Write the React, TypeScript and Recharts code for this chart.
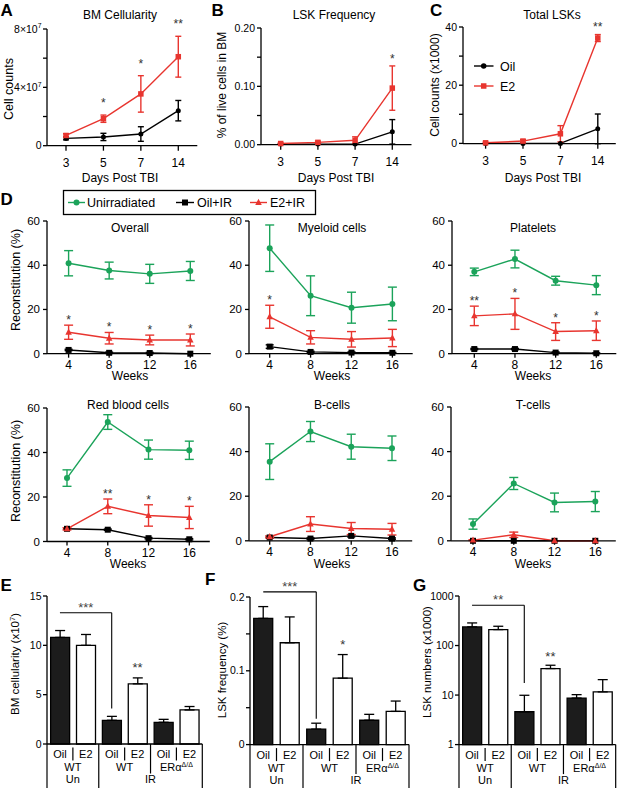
import React from 'react';
import {
  ComposedChart,
  Line,
  Bar,
  XAxis,
  YAxis,
  ErrorBar,
  LabelList,
  ReferenceLine,
  ReferenceDot,
  Cell,
} from 'recharts';

const FONT = '"Liberation Sans", Arial, Helvetica, sans-serif';
const RED = '#e8352f';
const GREEN = '#1ba35a';

// ---------- A-C: days post TBI ----------
const days = ['3', '5', '7', '14'];

const bmOil = [0.5e7, 0.6e7, 0.8e7, 2.4e7];
const bmOilSd = [0.1e7, 0.25e7, 0.5e7, 0.7e7];
const bmE2 = [0.7e7, 1.85e7, 3.55e7, 6.1e7];
const bmE2Sd = [0.12e7, 0.25e7, 1.25e7, 1.4e7];
const bmStars = ['', '*', '*', '**'];

const freqOil = [0.001, 0.001, 0.001, 0.022];
const freqOilSd = [0.0005, 0.0005, 0.0005, 0.021];
const freqE2 = [0.002, 0.004, 0.0075, 0.097];
const freqE2Sd = [0.001, 0.002, 0.006, 0.038];
const freqStars = ['', '', '', '*'];

const totOil = [0, 0, 0, 5.0];
const totOilSd = [0, 0, 0, 5.1];
const totE2 = [0.2, 0.8, 3.3, 36.2];
const totE2Sd = [0.2, 0.5, 2.8, 1.2];
const totStars = ['', '', '', '**'];

// ---------- D: reconstitution by weeks ----------
const weeks = ['4', '8', '12', '16'];

const allUn = [40.9, 37.6, 36.1, 37.4];
const allUnSd = [5.7, 3.8, 4.3, 4.3];
const allOil = [1.7, 0.4, 0.3, 0];
const allOilSd = [0.3, 0.3, 0.3, 0];
const allE2 = [9.7, 7.0, 6.2, 6.2];
const allE2Sd = [3.2, 2.6, 2.2, 2.7];
const allStars = ['*', '*', '*', '*'];

const myeUn = [47.7, 26.2, 20.8, 22.5];
const myeUnSd = [10.5, 9.0, 7.0, 7.6];
const myeOil = [3.2, 0.8, 0.5, 0.4];
const myeOilSd = [0.8, 0.3, 0.3, 0.2];
const myeE2 = [16.7, 7.4, 6.5, 7.1];
const myeE2Sd = [5.2, 3.0, 3.5, 3.9];
const myeStars = ['*', '', '', ''];

const pltUn = [37.0, 42.8, 33.0, 31.0];
const pltUnSd = [1.7, 4.0, 2.0, 4.3];
const pltOil = [2.1, 2.1, 0.5, 0.2];
const pltOilSd = [0.3, 0.3, 0.3, 0.2];
const pltE2 = [17.1, 18.0, 10.0, 10.4];
const pltE2Sd = [4.4, 7.0, 4.0, 4.4];
const pltStars = ['**', '*', '*', '*'];

const rbcUn = [28.5, 53.7, 41.3, 41.0];
const rbcUnSd = [3.7, 3.3, 4.3, 4.1];
const rbcOil = [5.7, 5.3, 1.5, 1.0];
const rbcOilSd = [0.3, 0.3, 0.3, 0.3];
const rbcE2 = [5.7, 15.8, 11.7, 10.8];
const rbcE2Sd = [0.5, 3.3, 4.8, 5.0];
const rbcStars = ['', '**', '*', '*'];

const bcUn = [35.5, 49.0, 42.2, 41.5];
const bcUnSd = [8.0, 4.5, 5.6, 5.5];
const bcOil = [1.5, 1.0, 2.2, 1.0];
const bcOilSd = [0.3, 0.3, 0.5, 0.3];
const bcE2 = [1.8, 7.5, 5.5, 5.2];
const bcE2Sd = [0.4, 3.3, 2.7, 2.6];
const bcStars = ['', '', '', ''];

const tcUn = [7.5, 25.7, 17.2, 17.6];
const tcUnSd = [2.3, 2.7, 4.2, 4.5];
const tcOil = [0, 0, 0, 0];
const tcOilSd = [0, 0, 0, 0];
const tcE2 = [0.3, 2.7, 0, 0];
const tcE2Sd = [0.2, 1.2, 0, 0];
const tcStars = ['', '', '', ''];

// ---------- E-G: bar panels ----------
const barKeys = ['oilUn', 'e2Un', 'oilWt', 'e2Wt', 'oilEr', 'e2Er'];
const treatments = ['Oil', 'E2', 'Oil', 'E2', 'Oil', 'E2'];
const strains = ['WT', 'WT', 'ERα'];
const strainSup = ['', '', 'Δ/Δ'];
const conditions = ['Un', 'IR'];

const cellularity = [10.8, 10.0, 2.4, 6.1, 2.2, 3.45];
const cellularitySd = [0.7, 1.1, 0.4, 0.6, 0.3, 0.35];
const cellularityStars = ['', '', '', '**', '', ''];

const lskPct = [0.171, 0.138, 0.021, 0.09, 0.033, 0.045];
const lskPctSd = [0.016, 0.035, 0.008, 0.032, 0.008, 0.014];
const lskPctStars = ['', '', '', '*', '', ''];

const lskNum = [238, 210, 4.6, 34.3, 8.7, 11.6];
const lskNumSd = [48, 35, 5.3, 5.7, 1.5, 8.9];
const lskNumStars = ['', '', '', '**', '', ''];

// Un Oil vs IR Oil comparison brackets (top, drop-to, label)
const cellularityBracket = { top: 13.3, low: 3.6, label: '***' };
const lskPctBracket = { top: 0.207, low: 0.035, label: '***' };
const lskNumBracket = { top: 652, low: 17.5, label: '**' };

type Box = { x0: number; y0: number; x1: number; y1: number };
type Ser = { key: string; color: string; shape: string; size: number; cap: number };

const PT = 30;
const PL = 50;
const PR = 2;
const PB = 46;
const axisStyle = { stroke: '#000', strokeWidth: 1.3 };

const abcSeries: Ser[] = [
  { key: 'oil', color: '#000', shape: 'circle', size: 5, cap: 3 },
  { key: 'e2', color: RED, shape: 'square', size: 5.5, cap: 3 },
];
const dSeries: Ser[] = [
  { key: 'un', color: GREEN, shape: 'circle', size: 6, cap: 4.5 },
  { key: 'oil', color: '#000', shape: 'square', size: 6, cap: 4 },
  { key: 'e2', color: RED, shape: 'triangle', size: 6.5, cap: 4.5 },
];

function rows(cats: string[], cols: Record<string, any[]>) {
  return cats.map((cat, i) => {
    const r: any = { cat };
    Object.keys(cols).forEach((k) => (r[k] = cols[k][i]));
    r.starY = r.e2 + r.e2Sd;
    return r;
  });
}

const shapeEl = (shape: string, cx: number, cy: number, size: number, color: string, key?: any) => {
  const h = size / 2;
  if (shape === 'square')
    return <rect key={key} x={cx - h} y={cy - h} width={size} height={size} fill={color} />;
  if (shape === 'triangle')
    return (
      <path
        key={key}
        d={`M${cx},${cy - h * 1.15}L${cx + h},${cy + h * 0.75}L${cx - h},${cy + h * 0.75}Z`}
        fill={color}
      />
    );
  return <circle key={key} cx={cx} cy={cy} r={h} fill={color} />;
};

const marker = (s: Ser) => (p: any) => {
  if (p.cx == null || p.cy == null || p.value == null) return <g key={p.index} />;
  return shapeEl(s.shape, p.cx, p.cy, s.size, s.color, p.index);
};

const YTick = (t: any) => {
  const [base, sup] = t.fmt(t.payload.value);
  if (!base) return <g />;
  return (
    <text x={t.x} y={t.y} dy="0.35em" textAnchor="end" fontSize={t.fs} fontFamily={FONT} fill="#000">
      {base}
      {sup ? (
        <tspan dy={-t.fs * 0.4} fontSize={t.fs * 0.65}>
          {sup}
        </tspan>
      ) : null}
    </text>
  );
};

const StarText = (l: any) => {
  if (!l.value) return <g />;
  const x = l.viewBox?.x ?? l.x;
  const y = l.viewBox?.y ?? l.y;
  if (x == null || y == null) return <g />;
  return (
    <text x={x} y={y - l.gap} textAnchor="middle" fontSize={l.fs} fontFamily={FONT} fill="#333">
      {l.value}
    </text>
  );
};

function LinePanel(p: {
  box: Box;
  data: any[];
  pad: [number, number];
  domain: [number, number];
  ticks: number[];
  fmt: (v: number) => string[];
  yFs: number;
  xFs: number;
  xTick: [number, number];
  yMargin: number;
  series: Ser[];
  starGap: number;
  starFs: number;
}) {
  const { box } = p;
  const w = box.x1 - box.x0 + PL + PR;
  const h = box.y1 - box.y0 + PT + PB;
  return (
    <div style={{ position: 'absolute', left: box.x0 - PL, top: box.y0 - PT }}>
      <ComposedChart width={w} height={h} data={p.data} margin={{ top: PT, right: PR, bottom: 0, left: 0 }}>
        <XAxis
          dataKey="cat"
          type="category"
          scale="point"
          padding={{ left: p.pad[0], right: p.pad[1] }}
          height={PB}
          interval={0}
          axisLine={axisStyle}
          tickLine={axisStyle}
          tickSize={p.xTick[0]}
          tickMargin={p.xTick[1]}
          tick={{ fontSize: p.xFs, fill: '#000', fontFamily: FONT }}
        />
        <YAxis
          type="number"
          domain={p.domain}
          ticks={p.ticks}
          width={PL}
          interval={0}
          axisLine={axisStyle}
          tickLine={axisStyle}
          tickSize={4}
          tickMargin={p.yMargin}
          tick={(t: any) => <YTick {...t} fmt={p.fmt} fs={p.yFs} />}
        />
        {p.series.map((s) => (
          <Line
            key={s.key}
            dataKey={s.key}
            stroke={s.color}
            strokeWidth={1.4}
            dot={marker(s)}
            activeDot={false}
            isAnimationActive={false}
          >
            <ErrorBar dataKey={s.key + 'Sd'} width={s.cap} stroke={s.color} strokeWidth={1.4} direction="y" />
          </Line>
        ))}
        <Line dataKey="starY" stroke="none" dot={false} activeDot={false} isAnimationActive={false}>
          <LabelList dataKey="star" content={(l: any) => <StarText {...l} gap={p.starGap} fs={p.starFs} />} />
        </Line>
      </ComposedChart>
    </div>
  );
}

const TableTick = (t: any) => {
  const { x, y, bw } = t;
  const i: number = t.index ?? t.payload?.index ?? 0;
  const L = x - bw / 2;
  const R = x + bw / 2;
  const ln = (lx: number, a: number, b: number, k: string) => (
    <line key={k} x1={lx} x2={lx} y1={y + a} y2={y + b} stroke="#000" strokeWidth={1.2} />
  );
  const txt = (s: React.ReactNode, cx: number, dy: number, k: string) => (
    <text key={k} x={cx} y={y + dy} textAnchor="middle" fontSize={11} fontFamily={FONT} fill="#000">
      {s}
    </text>
  );
  const out: React.ReactNode[] = [txt(treatments[i], x, 14.5, 't')];
  if (i % 2 === 1) {
    const g = i >> 1;
    out.push(ln(L, 3.5, 16.5, 'd'));
    out.push(
      txt(
        <>
          {strains[g]}
          {strainSup[g] ? (
            <tspan dy={-4} fontSize={7}>
              {strainSup[g]}
            </tspan>
          ) : null}
        </>,
        L,
        27,
        'g'
      )
    );
  }
  if (i === 0) out.push(ln(L, 0, 46, 'l'));
  if (i === 1 || i === 5) out.push(ln(R, 0, 46, 'r'));
  if (i === 3) out.push(ln(R, 0, 29.5, 'r'));
  if (i === 1) out.push(txt(conditions[0], L, 39.5, 'c'));
  if (i === 4) out.push(txt(conditions[1], L, 39.5, 'c'));
  return <g>{out}</g>;
};

function BarPanel(p: {
  box: Box;
  values: number[];
  sds: number[];
  stars: string[];
  domain: [number, number];
  ticks: number[];
  fmt: (v: number) => string[];
  scale?: 'log' | 'linear';
  bracket: { top: number; low: number; label: string };
  starGap: number;
}) {
  const { box } = p;
  const w = box.x1 - box.x0 + PL + PR;
  const h = box.y1 - box.y0 + PT + PB;
  const bw = (box.x1 - box.x0) / barKeys.length;
  const data = barKeys.map((cat, i) => ({
    cat,
    v: p.values[i],
    err: [0, p.sds[i]],
    starY: p.values[i] + p.sds[i],
    star: p.stars[i],
  }));
  return (
    <div style={{ position: 'absolute', left: box.x0 - PL, top: box.y0 - PT }}>
      <ComposedChart
        width={w}
        height={h}
        data={data}
        margin={{ top: PT, right: PR, bottom: 0, left: 0 }}
        barCategoryGap="14%"
      >
        <XAxis
          dataKey="cat"
          type="category"
          height={PB}
          interval={0}
          axisLine={axisStyle}
          tickLine={false}
          tickSize={0}
          tickMargin={0}
          tick={(t: any) => <TableTick {...t} bw={bw} />}
        />
        <YAxis
          type="number"
          scale={p.scale ?? 'linear'}
          domain={p.domain}
          ticks={p.ticks}
          width={PL}
          interval={0}
          axisLine={axisStyle}
          tickLine={axisStyle}
          tickSize={4}
          tickMargin={1.5}
          tick={(t: any) => <YTick {...t} fmt={p.fmt} fs={10.5} />}
        />
        <Bar dataKey="v" stroke="#000" strokeWidth={1.3} isAnimationActive={false}>
          {data.map((d, i) => (
            <Cell key={d.cat} fill={treatments[i] === 'Oil' ? '#1c1c1c' : '#fff'} />
          ))}
          <ErrorBar dataKey="err" width={5} stroke="#000" strokeWidth={1.3} direction="y" />
        </Bar>
        <Line dataKey="starY" stroke="none" dot={false} activeDot={false} isAnimationActive={false}>
          <LabelList dataKey="star" content={(l: any) => <StarText {...l} gap={p.starGap} fs={13} />} />
        </Line>
        <ReferenceLine
          segment={[
            { x: barKeys[0], y: p.bracket.top },
            { x: barKeys[2], y: p.bracket.top },
          ]}
          stroke="#000"
          strokeWidth={1.1}
          ifOverflow="visible"
        />
        <ReferenceLine
          segment={[
            { x: barKeys[2], y: p.bracket.top },
            { x: barKeys[2], y: p.bracket.low },
          ]}
          stroke="#000"
          strokeWidth={1.1}
          ifOverflow="visible"
        />
        <ReferenceDot
          x={barKeys[1]}
          y={p.bracket.top}
          r={0}
          ifOverflow="visible"
          shape={(s: any) => (
            <text x={s.cx} y={s.cy - 1} textAnchor="middle" fontSize={13} fontFamily={FONT} fill="#444">
              {p.bracket.label}
            </text>
          )}
        />
      </ComposedChart>
    </div>
  );
}

const dFmt = (v: number) => [String(v)];
const dTicks = [0, 20, 40, 60];

const titles: [string, number, number][] = [
  ['BM Cellularity', 120, 18.5],
  ['LSK Frequency', 334, 18.5],
  ['Total LSKs', 552, 18.5],
  ['Overall', 130, 231.5],
  ['Myeloid cells', 332, 231.5],
  ['Platelets', 533, 231.5],
  ['Red blood cells', 128, 408.5],
  ['B-cells', 332, 408.5],
  ['T-cells', 533, 408.5],
  ['Days Post TBI', 120, 181.5],
  ['Days Post TBI', 336, 181.5],
  ['Days Post TBI', 543, 181.5],
  ['Weeks', 130, 380],
  ['Weeks', 332, 380],
  ['Weeks', 533, 380],
  ['Weeks', 128, 568],
  ['Weeks', 332, 568],
  ['Weeks', 533, 568],
];

const yTitles: [string, number, number, number][] = [
  ['Cell counts', 13, 89, 12.5],
  ['% of live cells in BM', 226, 85, 12],
  ['Cell counts (x1000)', 439, 85, 12],
  ['Reconstitution (%)', 19.5, 280, 12.5],
  ['Reconstitution (%)', 19.5, 471, 12.5],
  ['LSK frequency (%)', 226, 670, 11.5],
  ['LSK numbers (x1000)', 431, 662, 11.5],
];

const letters: [string, number, number][] = [
  ['A', 0.5, 15.5],
  ['B', 211.5, 15.5],
  ['C', 430, 15.5],
  ['D', 0.5, 205],
  ['E', 0.5, 591],
  ['F', 205, 585],
  ['G', 413, 590.5],
];

function Overlay() {
  return (
    <svg width={617} height={788} style={{ position: 'absolute', left: 0, top: 0, pointerEvents: 'none' }}>
      {letters.map(([t, x, y]) => (
        <text key={t} x={x} y={y} fontSize={17} fontWeight="bold" fontFamily={FONT} fill="#000">
          {t}
        </text>
      ))}
      {titles.map(([t, x, y], i) => (
        <text key={i} x={x} y={y} textAnchor="middle" fontSize={12} fontFamily={FONT} fill="#000">
          {t}
        </text>
      ))}
      {yTitles.map(([t, x, y, fs], i) => (
        <text
          key={i}
          x={x}
          y={y}
          transform={`rotate(-90 ${x} ${y})`}
          textAnchor="middle"
          fontSize={fs}
          fontFamily={FONT}
          fill="#000"
        >
          {t}
        </text>
      ))}
      <text x={19} y={664} transform="rotate(-90 19 664)" textAnchor="middle" fontSize={11.5} fontFamily={FONT} fill="#000">
        BM cellularity (x10
        <tspan dy={-4} fontSize={7.5}>
          7
        </tspan>
        <tspan dy={4}>)</tspan>
      </text>

      {/* C legend */}
      <line x1={474} x2={493.5} y1={66} y2={66} stroke="#000" strokeWidth={1.4} />
      {shapeEl('circle', 483.7, 66, 5.5, '#000')}
      <text x={500} y={70.5} fontSize={12.5} fontFamily={FONT} fill="#000">Oil</text>
      <line x1={474} x2={493.5} y1={86} y2={86} stroke={RED} strokeWidth={1.4} />
      {shapeEl('square', 483.7, 86, 5.5, RED)}
      <text x={500} y={90.5} fontSize={12.5} fontFamily={FONT} fill="#000">E2</text>

      {/* D legend */}
      <rect x={63.5} y={190.5} width={252} height={24} fill="#fff" stroke="#000" strokeWidth={1.3} />
      <line x1={68} x2={85} y1={202.5} y2={202.5} stroke={GREEN} strokeWidth={1.4} />
      {shapeEl('circle', 76.5, 202.5, 6, GREEN)}
      <text x={87} y={207} fontSize={12.5} fontFamily={FONT} fill="#000">Unirradiated</text>
      <line x1={176} x2={194} y1={202.5} y2={202.5} stroke="#000" strokeWidth={1.4} />
      {shapeEl('square', 185, 202.5, 6, '#000')}
      <text x={197} y={207} fontSize={12.5} fontFamily={FONT} fill="#000">Oil+IR</text>
      <line x1={250} x2={267} y1={202.5} y2={202.5} stroke={RED} strokeWidth={1.4} />
      {shapeEl('triangle', 258.5, 202.5, 6.5, RED)}
      <text x={270} y={207} fontSize={12.5} fontFamily={FONT} fill="#000">E2+IR</text>
    </svg>
  );
}

export default function App() {
  const abcX: [number, number] = [5, 8];
  const dX: [number, number] = [4, 2.5];
  return (
    <div
      style={{
        position: 'absolute',
        left: 0,
        top: 0,
        width: 617,
        height: 788,
        overflow: 'hidden',
        background: '#fff',
        fontFamily: FONT,
      }}
    >
      <LinePanel
        box={{ x0: 46.7, y0: 29.3, x1: 197, y1: 146 }}
        data={rows(days, { oil: bmOil, oilSd: bmOilSd, e2: bmE2, e2Sd: bmE2Sd, star: bmStars })}
        pad={[19, 19]}
        domain={[0, 8e7]}
        ticks={[0, 2e7, 4e7, 6e7, 8e7]}
        fmt={(v) => (v === 0 ? ['0'] : v === 4e7 ? ['4×10', '7'] : v === 8e7 ? ['8×10', '7'] : [''])}
        yFs={10.5}
        xFs={12}
        xTick={abcX}
        yMargin={1.5}
        series={abcSeries}
        starGap={8}
        starFs={12}
      />
      <LinePanel
        box={{ x0: 261, y0: 28.3, x1: 411.5, y1: 145 }}
        data={rows(days, { oil: freqOil, oilSd: freqOilSd, e2: freqE2, e2Sd: freqE2Sd, star: freqStars })}
        pad={[19.7, 19.2]}
        domain={[0, 0.2]}
        ticks={[0, 0.05, 0.1, 0.15, 0.2]}
        fmt={(v) => (v === 0 || v === 0.1 || v === 0.2 ? [v.toFixed(2)] : [''])}
        yFs={10.5}
        xFs={12}
        xTick={abcX}
        yMargin={2}
        series={abcSeries}
        starGap={3}
        starFs={12}
      />
      <LinePanel
        box={{ x0: 462.7, y0: 27.3, x1: 615.5, y1: 144 }}
        data={rows(days, { oil: totOil, oilSd: totOilSd, e2: totE2, e2Sd: totE2Sd, star: totStars })}
        pad={[22.6, 18]}
        domain={[0, 40]}
        ticks={[0, 10, 20, 30, 40]}
        fmt={(v) => (v % 20 === 0 ? [String(v)] : [''])}
        yFs={10.5}
        xFs={12}
        xTick={abcX}
        yMargin={2}
        series={abcSeries}
        starGap={4}
        starFs={12}
      />

      <LinePanel
        box={{ x0: 46.7, y0: 221, x1: 210.5, y1: 353.7 }}
        data={rows(weeks, { un: allUn, unSd: allUnSd, oil: allOil, oilSd: allOilSd, e2: allE2, e2Sd: allE2Sd, star: allStars })}
        pad={[21.6, 20.5]}
        domain={[0, 60]}
        ticks={dTicks}
        fmt={dFmt}
        yFs={11.5}
        xFs={12}
        xTick={dX}
        yMargin={3}
        series={dSeries}
        starGap={1}
        starFs={12}
      />
      <LinePanel
        box={{ x0: 249.3, y0: 221, x1: 413, y1: 353.7 }}
        data={rows(weeks, { un: myeUn, unSd: myeUnSd, oil: myeOil, oilSd: myeOilSd, e2: myeE2, e2Sd: myeE2Sd, star: myeStars })}
        pad={[20.7, 20.3]}
        domain={[0, 60]}
        ticks={dTicks}
        fmt={dFmt}
        yFs={11.5}
        xFs={12}
        xTick={dX}
        yMargin={3}
        series={dSeries}
        starGap={1}
        starFs={12}
      />
      <LinePanel
        box={{ x0: 451.7, y0: 221, x1: 616, y1: 353.7 }}
        data={rows(weeks, { un: pltUn, unSd: pltUnSd, oil: pltOil, oilSd: pltOilSd, e2: pltE2, e2Sd: pltE2Sd, star: pltStars })}
        pad={[22.3, 20]}
        domain={[0, 60]}
        ticks={dTicks}
        fmt={dFmt}
        yFs={11.5}
        xFs={12}
        xTick={dX}
        yMargin={3}
        series={dSeries}
        starGap={1}
        starFs={12}
      />
      <LinePanel
        box={{ x0: 46.7, y0: 408, x1: 209.5, y1: 541.5 }}
        data={rows(weeks, { un: rbcUn, unSd: rbcUnSd, oil: rbcOil, oilSd: rbcOilSd, e2: rbcE2, e2Sd: rbcE2Sd, star: rbcStars })}
        pad={[20, 20.5]}
        domain={[0, 60]}
        ticks={dTicks}
        fmt={dFmt}
        yFs={11.5}
        xFs={12}
        xTick={dX}
        yMargin={3}
        series={dSeries}
        starGap={1}
        starFs={12}
      />
      <LinePanel
        box={{ x0: 249.3, y0: 406.5, x1: 412.5, y1: 540.3 }}
        data={rows(weeks, { un: bcUn, unSd: bcUnSd, oil: bcOil, oilSd: bcOilSd, e2: bcE2, e2Sd: bcE2Sd, star: bcStars })}
        pad={[20.7, 20.2]}
        domain={[0, 60]}
        ticks={dTicks}
        fmt={dFmt}
        yFs={11.5}
        xFs={12}
        xTick={dX}
        yMargin={3}
        series={dSeries}
        starGap={1}
        starFs={12}
      />
      <LinePanel
        box={{ x0: 450.7, y0: 406.5, x1: 615.5, y1: 540.3 }}
        data={rows(weeks, { un: tcUn, unSd: tcUnSd, oil: tcOil, oilSd: tcOilSd, e2: tcE2, e2Sd: tcE2Sd, star: tcStars })}
        pad={[22, 20.5]}
        domain={[0, 60]}
        ticks={dTicks}
        fmt={dFmt}
        yFs={11.5}
        xFs={12}
        xTick={dX}
        yMargin={3}
        series={dSeries}
        starGap={1}
        starFs={12}
      />

      <BarPanel
        box={{ x0: 46.7, y0: 596, x1: 202, y1: 744 }}
        values={cellularity}
        sds={cellularitySd}
        stars={cellularityStars}
        domain={[0, 15]}
        ticks={[0, 5, 10, 15]}
        fmt={(v) => [String(v)]}
        bracket={cellularityBracket}
        starGap={6}
      />
      <BarPanel
        box={{ x0: 250, y0: 596.7, x1: 409, y1: 744.3 }}
        values={lskPct}
        sds={lskPctSd}
        stars={lskPctStars}
        domain={[0, 0.2]}
        ticks={[0, 0.05, 0.1, 0.15, 0.2]}
        fmt={(v) => (v === 0 ? ['0'] : v === 0.1 || v === 0.2 ? [String(v)] : [''])}
        bracket={lskPctBracket}
        starGap={6}
      />
      <BarPanel
        box={{ x0: 459.3, y0: 595.7, x1: 616, y1: 744.3 }}
        values={lskNum}
        sds={lskNumSd}
        stars={lskNumStars}
        domain={[1, 1000]}
        ticks={[1, 10, 100, 1000]}
        fmt={(v) => [String(v)]}
        scale="log"
        bracket={lskNumBracket}
        starGap={4}
      />

      <Overlay />
    </div>
  );
}
